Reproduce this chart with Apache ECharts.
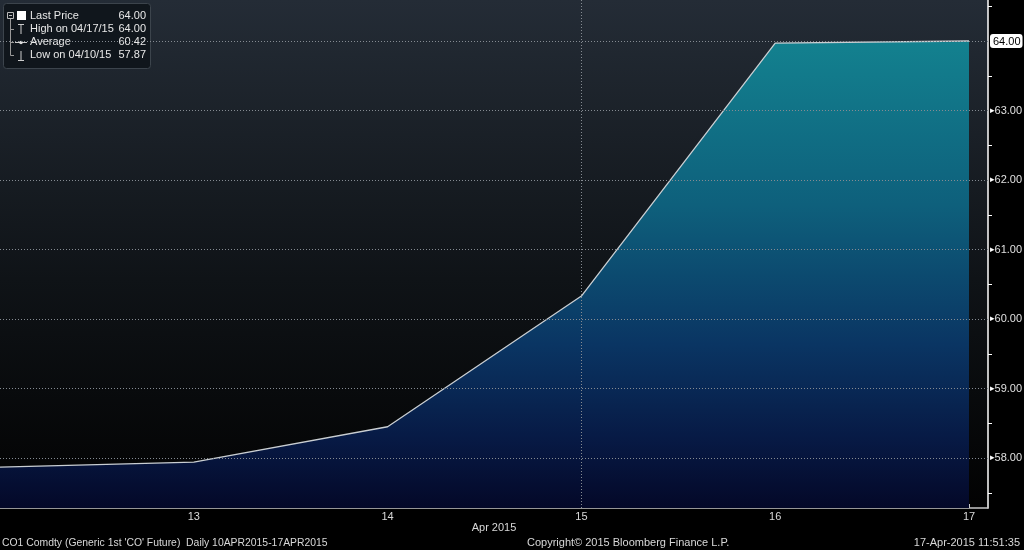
<!DOCTYPE html>
<html>
<head>
<meta charset="utf-8">
<script src="https://cdn.jsdelivr.net/npm/echarts@6/dist/echarts.min.js"></script>
<style>html,body{margin:0;padding:0;background:#000;}#c{width:1024px;height:550px;}</style>
</head>
<body>
<div id="c"></div>
<script>
var dates = ['10', '13', '14', '15', '16', '17'];
var prices = [57.87, 57.94, 58.45, 60.33, 63.97, 64.00];
var yLabelValues = [58, 59, 60, 61, 62, 63, 64];
var yMinorTicks = [57.5, 58.5, 59.5, 60.5, 61.5, 62.5, 63.5, 64.5];
var lastPrice = 64.00;
var legendRows = [
  ['Last Price', '64.00'],
  ['High on 04/17/15', '64.00'],
  ['Average', '60.42'],
  ['Low on 04/10/15', '57.87']
];
var footerLeft = "CO1 Comdty (Generic 1st 'CO' Future)  Daily 10APR2015-17APR2015";
var footerMid = 'Copyright\u00a9 2015 Bloomberg Finance L.P.';
var footerRight = '17-Apr-2015 11:51:35';
var monthLabel = 'Apr 2015';

var FONT = 'Liberation Sans';
var chart = echarts.init(document.getElementById('c'));

var seriesData = prices.map(function (v, i) { return [i, v]; });

var legendGraphics = [{
  type: 'rect', shape: { x: 3.5, y: 3.5, width: 147, height: 65, r: 3 },
  style: { fill: '#10161c', stroke: '#3c444c', lineWidth: 1 }
}];
legendRows.forEach(function (r, i) {
  var cy = 16 + i * 13;
  legendGraphics.push({ type: 'text', x: 30, y: cy, style: { text: r[0], fill: '#e8e8e8', font: '11px ' + FONT, textVerticalAlign: 'middle' } });
  legendGraphics.push({ type: 'text', x: 146, y: cy, style: { text: r[1], fill: '#e8e8e8', font: '11px ' + FONT, textAlign: 'right', textVerticalAlign: 'middle' } });
});
legendGraphics.push(
  { type: 'rect', shape: { x: 7.5, y: 12.5, width: 6, height: 6 }, style: { fill: 'none', stroke: '#bbb', lineWidth: 1 } },
  { type: 'line', shape: { x1: 9, y1: 15.5, x2: 12, y2: 15.5 }, style: { stroke: '#bbb', lineWidth: 1 } },
  { type: 'line', shape: { x1: 10.5, y1: 19, x2: 10.5, y2: 55.5 }, style: { stroke: '#999', lineWidth: 1 } },
  { type: 'line', shape: { x1: 10.5, y1: 29.5, x2: 14, y2: 29.5 }, style: { stroke: '#999', lineWidth: 1 } },
  { type: 'line', shape: { x1: 10.5, y1: 42.5, x2: 14, y2: 42.5 }, style: { stroke: '#999', lineWidth: 1 } },
  { type: 'line', shape: { x1: 10.5, y1: 55.5, x2: 14, y2: 55.5 }, style: { stroke: '#999', lineWidth: 1 } },
  { type: 'rect', shape: { x: 17, y: 11, width: 9, height: 9 }, style: { fill: '#ffffff' } },
  { type: 'line', shape: { x1: 18, y1: 24.5, x2: 24, y2: 24.5 }, style: { stroke: '#ccc', lineWidth: 1 } },
  { type: 'line', shape: { x1: 21, y1: 24.5, x2: 21, y2: 34 }, style: { stroke: '#ccc', lineWidth: 1 } },
  { type: 'line', shape: { x1: 15, y1: 42.5, x2: 27, y2: 42.5 }, style: { stroke: '#ccc', lineWidth: 1 } },
  { type: 'circle', shape: { cx: 21, cy: 42.5, r: 1.8 }, style: { fill: '#ddd' } },
  { type: 'line', shape: { x1: 21, y1: 51, x2: 21, y2: 60 }, style: { stroke: '#ccc', lineWidth: 1 } },
  { type: 'line', shape: { x1: 18, y1: 60.5, x2: 24, y2: 60.5 }, style: { stroke: '#ccc', lineWidth: 1 } }
);

var footerGraphics = [
  { type: 'text', x: 2, y: 543, style: { text: footerLeft, fill: '#d8d8d8', font: '10.4px ' + FONT, textVerticalAlign: 'middle' } },
  { type: 'text', x: 527, y: 543, style: { text: footerMid, fill: '#d8d8d8', font: '11px ' + FONT, textVerticalAlign: 'middle' } },
  { type: 'text', x: 1020, y: 543, style: { text: footerRight, fill: '#d8d8d8', font: '11px ' + FONT, textAlign: 'right', textVerticalAlign: 'middle' } },
  { type: 'text', x: 494, y: 528, style: { text: monthLabel, fill: '#d8d8d8', font: '11px ' + FONT, textAlign: 'center', textVerticalAlign: 'middle' } }
];

var option = {
  backgroundColor: '#000000',
  animation: false,
  grid: {
    left: 0, right: 36, top: 0, bottom: 42, show: true, borderWidth: 0,
    containLabel: false, outerBoundsMode: 'none',
    backgroundColor: new echarts.graphic.LinearGradient(0, 0, 0, 1, [
      { offset: 0, color: '#242c36' },
      { offset: 0.55, color: '#0f1317' },
      { offset: 1, color: '#020202' }
    ])
  },
  xAxis: {
    type: 'value', min: 0, max: 5.098, interval: 1,
    axisLine: { show: true, onZero: false, lineStyle: { color: '#c8c8c8', width: 1.5 } },
    axisTick: { show: true, length: 4, inside: true, lineStyle: { color: '#c8c8c8' } },
    splitLine: { show: false },
    axisLabel: {
      color: '#d8d8d8', fontFamily: FONT, fontSize: 11, margin: 3, showMaxLabel: false,
      formatter: function (v) { return (v > 0 && v < dates.length && Math.round(v) === v) ? dates[v] : ''; }
    }
  },
  yAxis: {
    type: 'value', position: 'right', min: 57.281, max: 64.59,
    axisLine: { show: true, onZero: false, lineStyle: { color: '#ffffff', width: 1.5 } },
    axisTick: { show: true, length: 4, inside: false, customValues: yMinorTicks, lineStyle: { color: '#ffffff' } },
    splitLine: { show: false },
    axisLabel: {
      customValues: yLabelValues, margin: 2, fontFamily: FONT, fontSize: 11, color: '#e0e0e0',
      formatter: function (v) {
        if (v === lastPrice) return '{last|' + v.toFixed(2) + '}';
        return '{p|\u25B8}{v|' + v.toFixed(2) + '}';
      },
      rich: {
        p: { color: '#ffffff', fontSize: 9, fontFamily: 'DejaVu Sans' },
        v: { color: '#e0e0e0', fontSize: 11, fontFamily: FONT },
        last: { color: '#000000', backgroundColor: '#ffffff', fontSize: 11, fontFamily: FONT, borderRadius: 3, padding: [2, 2, 1, 3] }
      }
    }
  },
  series: [{
    type: 'line',
    data: seriesData,
    showSymbol: false,
    symbol: 'none',
    lineStyle: { color: '#c9ced2', width: 1.3 },
    areaStyle: {
      opacity: 1,
      color: new echarts.graphic.LinearGradient(0, 0, 0, 1, [
        { offset: 0, color: '#13818f' },
        { offset: 0.35, color: '#0e607c' },
        { offset: 0.65, color: '#0a3563' },
        { offset: 0.85, color: '#071a45' },
        { offset: 1, color: '#040828' }
      ])
    },
    markLine: {
      silent: true, symbol: 'none', label: { show: false },
      lineStyle: { color: '#858b92', type: [1, 2], width: 1 },
      data: yLabelValues.map(function (v) { return { yAxis: v }; }).concat([{ xAxis: 3 }])
    },
    z: 2
  }],
  graphic: legendGraphics.concat(footerGraphics)
};
chart.setOption(option);
</script>
</body>
</html>
